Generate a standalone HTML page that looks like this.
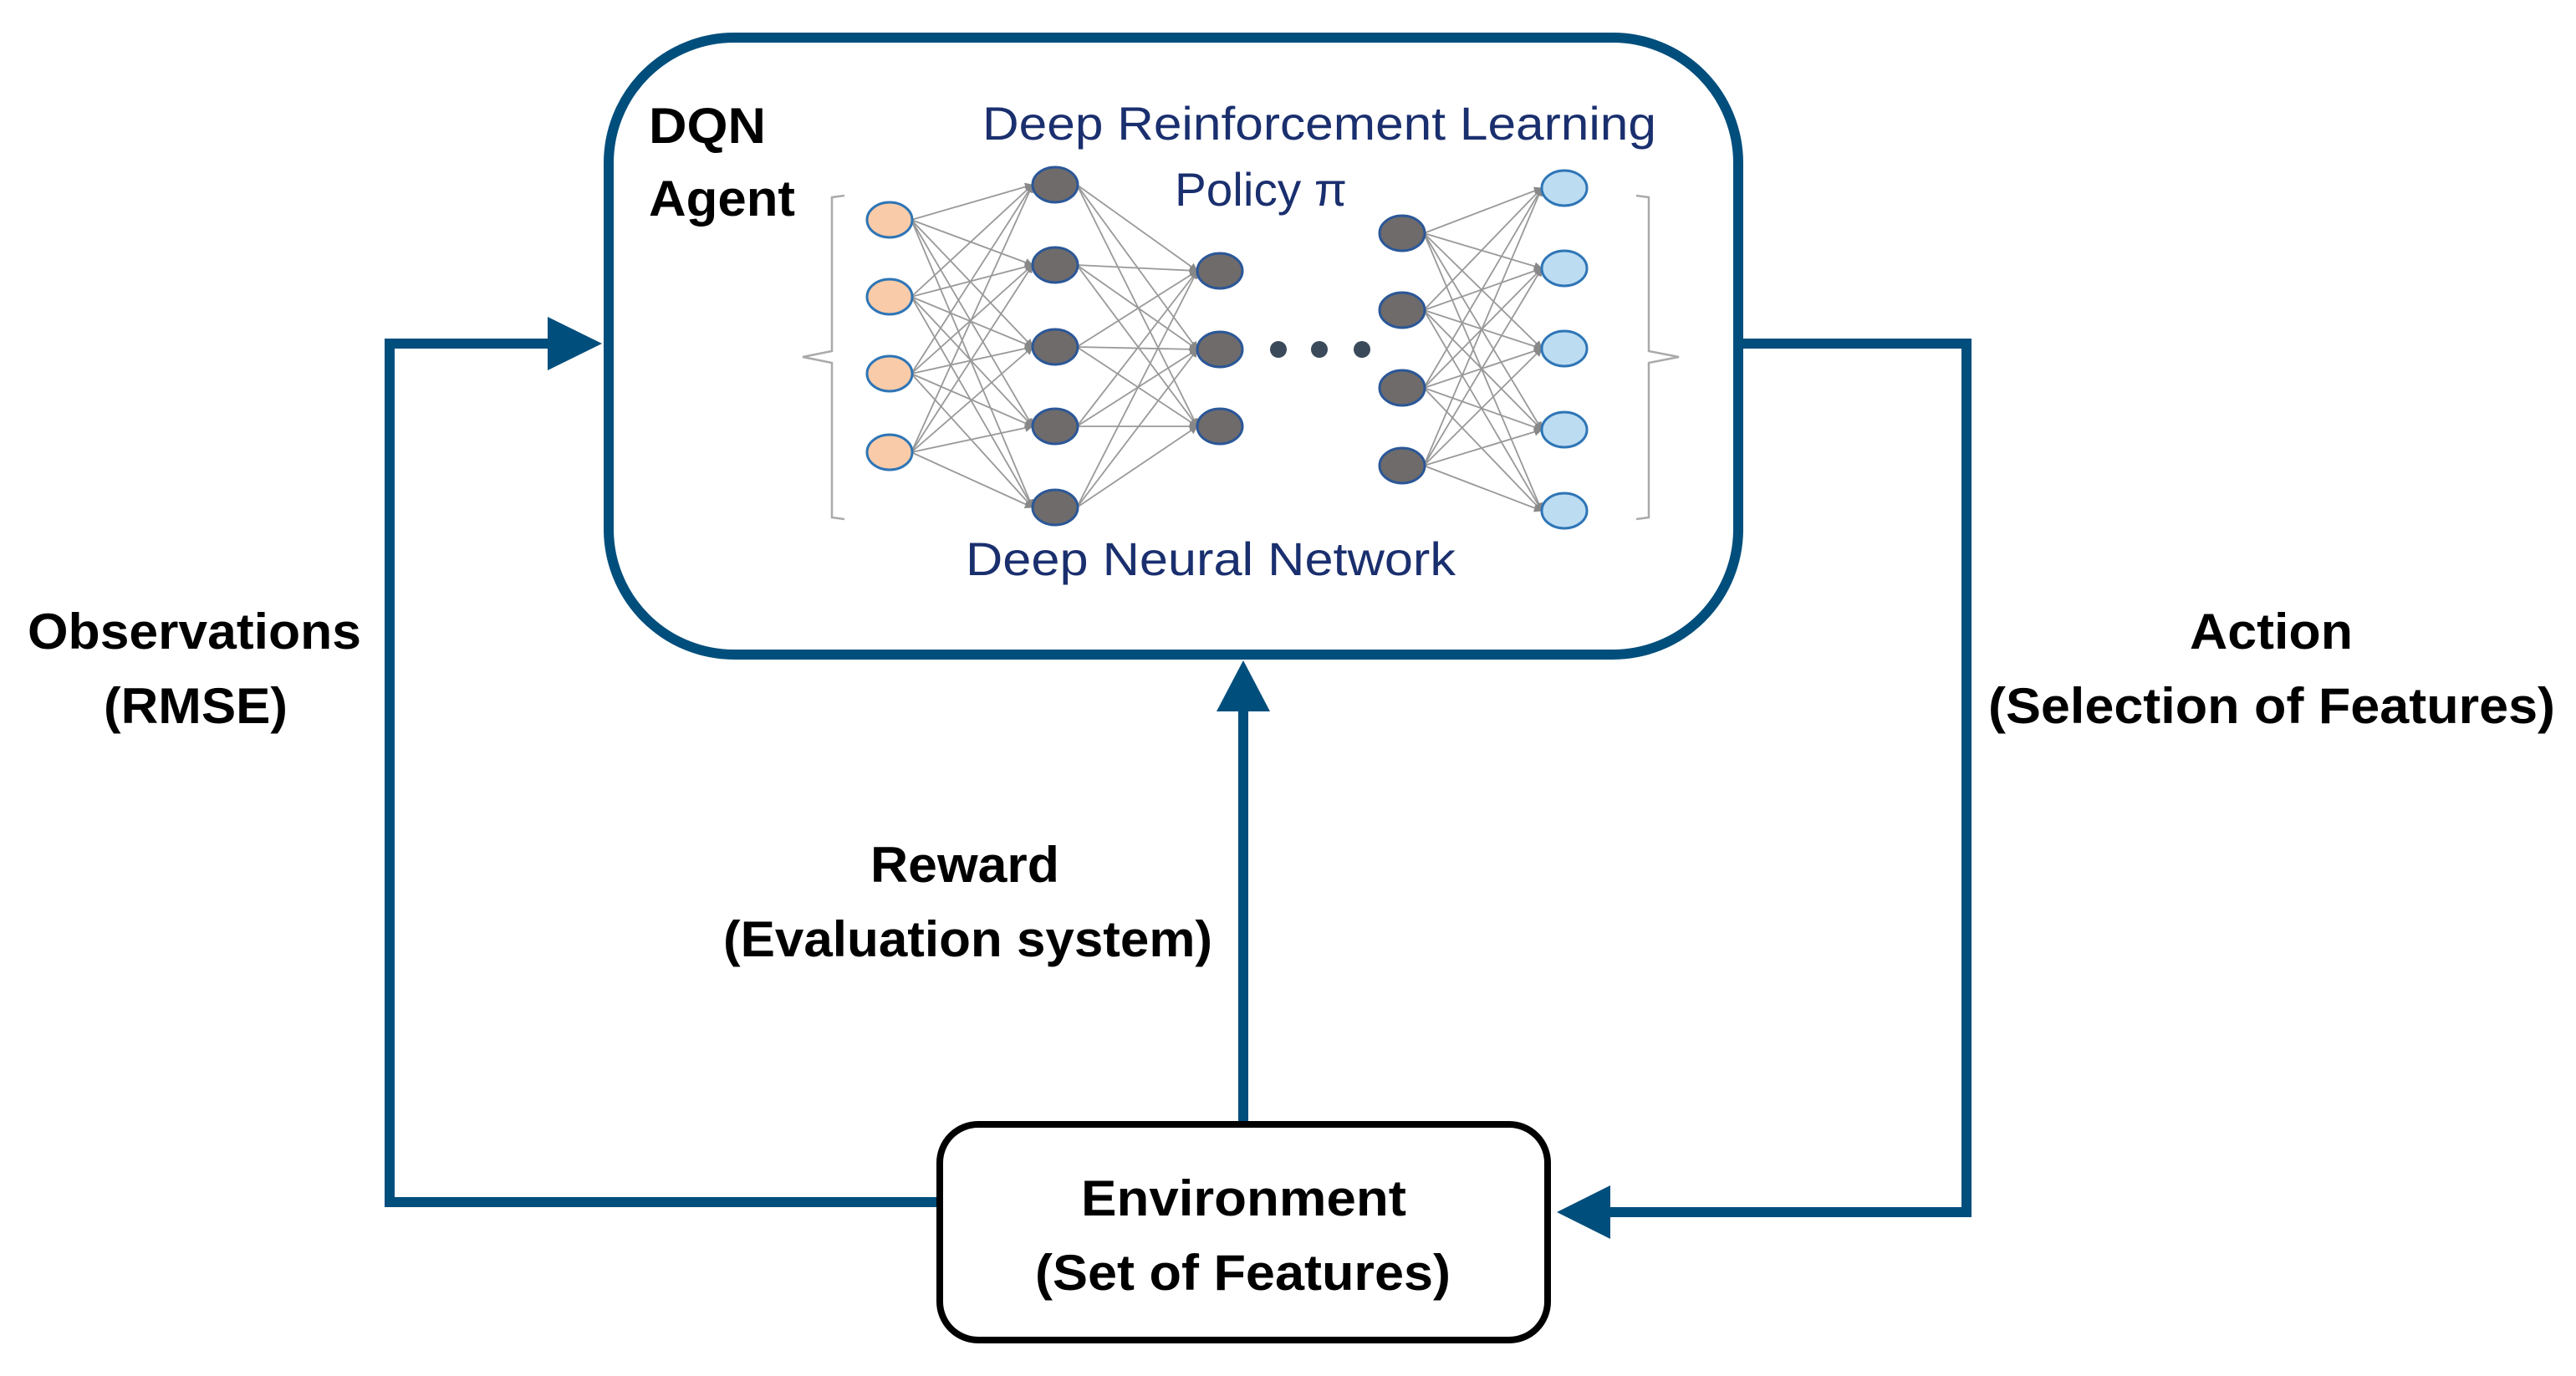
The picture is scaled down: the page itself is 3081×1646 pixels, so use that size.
<!DOCTYPE html>
<html><head><meta charset="utf-8"><style>html,body{margin:0;padding:0;background:#fff}svg{display:block}</style></head>
<body>
<svg width="3081" height="1646" viewBox="0 0 3081 1646" xmlns="http://www.w3.org/2000/svg">
<defs>
<marker id="ah" markerWidth="10" markerHeight="10" refX="9" refY="5" orient="auto" markerUnits="userSpaceOnUse">
<path d="M0,0 L10,5 L0,10 z" fill="#888"/>
</marker>
</defs>
<rect x="0" y="0" width="3081" height="1646" fill="#fff"/>
<!-- connectors -->
<g stroke="#004e7c" stroke-width="12" fill="none">
<polyline points="1120,1438 466,1438 466,411 660,411"/>
<polyline points="2083,411 2352,411 2352,1450 1920,1450"/>
<line x1="1487" y1="1342" x2="1487" y2="845"/>
</g>
<g fill="#004e7c">
<polygon points="655,379 720,411 655,443"/>
<polygon points="1926,1418 1862,1450 1926,1482"/>
<polygon points="1455,851 1487,790 1519,851"/>
</g>
<!-- boxes -->
<rect x="728" y="45" width="1351" height="738" rx="150" ry="150" fill="none" stroke="#004e7c" stroke-width="12"/>
<rect x="1124" y="1345" width="727" height="258" rx="46" ry="46" fill="#fff" stroke="#000" stroke-width="8"/>
<!-- brackets -->
<g stroke="#aaa" stroke-width="2.5" fill="none">
<path d="M1010,234 L995,236 L995,420 L960,427 L995,434 L995,619 L1010,621"/>
<path d="M1957,234 L1972,236 L1972,420 L2008,427 L1972,434 L1972,619 L1957,621"/>
</g>
<!-- edges -->
<g stroke="#999" stroke-width="1.8" marker-end="url(#ah)" id="edges"></g>
<!-- dots -->
<g fill="#3a4a5a"><circle cx="1529" cy="418" r="10"/><circle cx="1578" cy="418" r="10"/><circle cx="1629" cy="418" r="10"/></g>
<g id="nodes"></g>
<!-- text -->
<g font-family="'Liberation Sans', sans-serif" font-weight="bold" fill="#000" font-size="60">
<text x="776" y="171" textLength="140" lengthAdjust="spacingAndGlyphs">DQN</text>
<text x="776" y="258" textLength="175" lengthAdjust="spacingAndGlyphs">Agent</text>
<text x="33" y="776" textLength="399" lengthAdjust="spacingAndGlyphs">Observations</text>
<text x="124" y="865" textLength="220" lengthAdjust="spacingAndGlyphs">(RMSE)</text>
<text x="2619" y="776" textLength="195" lengthAdjust="spacingAndGlyphs">Action</text>
<text x="2378" y="865" textLength="678" lengthAdjust="spacingAndGlyphs">(Selection of Features)</text>
<text x="1041" y="1055" textLength="226" lengthAdjust="spacingAndGlyphs">Reward</text>
<text x="865" y="1144" textLength="585" lengthAdjust="spacingAndGlyphs">(Evaluation system)</text>
<text x="1293" y="1454" textLength="389" lengthAdjust="spacingAndGlyphs">Environment</text>
<text x="1238" y="1543" textLength="497" lengthAdjust="spacingAndGlyphs">(Set of Features)</text>
</g>
<g font-family="'Liberation Sans', sans-serif" fill="#1a2f6e" font-size="56">
<text x="1175" y="167" textLength="806" lengthAdjust="spacingAndGlyphs">Deep Reinforcement Learning</text>
<text x="1405" y="246" textLength="206" lengthAdjust="spacingAndGlyphs">Policy π</text>
<text x="1155" y="688" textLength="586" lengthAdjust="spacingAndGlyphs">Deep Neural Network</text>
</g>
<script>
var L=[
 {x:1064,ys:[263,355,447,541],f:"#f9cba8",s:"#2e75b6"},
 {x:1262,ys:[221,317,415,510,607],f:"#6f6b6b",s:"#2b5797"},
 {x:1459,ys:[324,418,510],f:"#6f6b6b",s:"#2b5797"},
 {x:1677,ys:[279,371,464,557],f:"#6f6b6b",s:"#2b5797"},
 {x:1871,ys:[225,321,417,514,611],f:"#bcdcf2",s:"#2e75b6"}];
var ns="http://www.w3.org/2000/svg",E=document.getElementById("edges"),N=document.getElementById("nodes");
[[0,1],[1,2],[3,4]].forEach(function(p){var a=L[p[0]],b=L[p[1]];a.ys.forEach(function(y1){b.ys.forEach(function(y2){var l=document.createElementNS(ns,"line");l.setAttribute("x1",a.x+26);l.setAttribute("y1",y1);l.setAttribute("x2",b.x-27);l.setAttribute("y2",y2);E.appendChild(l);});});});
L.forEach(function(a){a.ys.forEach(function(y){var e=document.createElementNS(ns,"ellipse");e.setAttribute("cx",a.x);e.setAttribute("cy",y);e.setAttribute("rx",27);e.setAttribute("ry",21);e.setAttribute("fill",a.f);e.setAttribute("stroke",a.s);e.setAttribute("stroke-width",3);N.appendChild(e);});});
</script>
</svg>
</body></html>
